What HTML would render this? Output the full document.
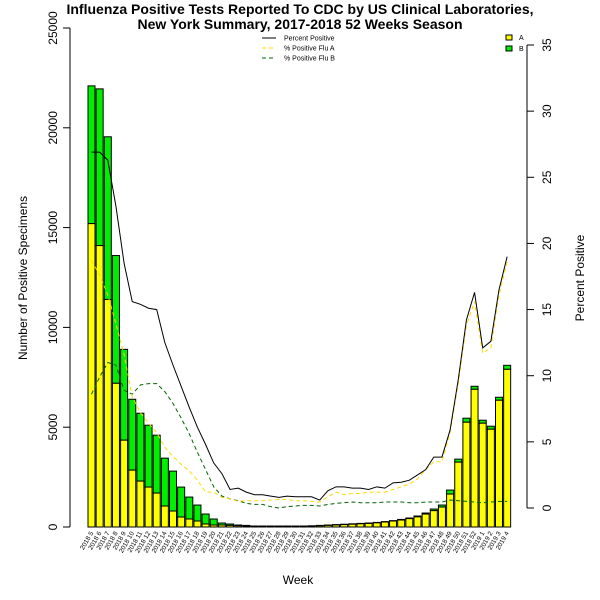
<!DOCTYPE html>
<html><head><meta charset="utf-8"><style>
body{margin:0;background:#fff;}
svg{display:block;font-family:"Liberation Sans",sans-serif;}
</style></head><body>
<svg id="chart" width="600" height="600" viewBox="0 0 600 600">
<rect width="600" height="600" fill="#fff"/>
<text x="300" y="14" text-anchor="middle" font-size="14" font-weight="bold">Influenza Positive Tests Reported To CDC by US Clinical Laboratories,</text>
<text x="300" y="29" text-anchor="middle" font-size="14" font-weight="bold">New York Summary, 2017-2018 52 Weeks Season</text>
<g id="bars"></g>
<g id="lines"></g>
<g id="axes"></g>
<text transform="translate(27,278) rotate(-90)" text-anchor="middle" font-size="12">Number of Positive Specimens</text>
<text transform="translate(584,278) rotate(-90)" text-anchor="middle" font-size="12">Percent Positive</text>
<text x="298" y="584" text-anchor="middle" font-size="12">Week</text>
<g font-size="7">
<line x1="262" y1="38" x2="276" y2="38" stroke="#000"/>
<text x="284" y="40.5">Percent Positive</text>
<line x1="262" y1="48" x2="276" y2="48" stroke="#ffd700" stroke-dasharray="4,3"/>
<text x="284" y="50.5">% Positive Flu A</text>
<line x1="262" y1="58" x2="276" y2="58" stroke="#006400" stroke-dasharray="4,3"/>
<text x="284" y="60.5">% Positive Flu B</text>
</g>
<g font-size="7">
<rect x="506" y="35" width="6" height="5" fill="#ffff00" stroke="#000"/>
<text x="519" y="40">A</text>
<rect x="506" y="46" width="6" height="5" fill="#00ee00" stroke="#000"/>
<text x="519" y="51">B</text>
</g>
</svg>
<script>
const weeks = ["2018 5","2018 6","2018 7","2018 8","2018 9","2018 10","2018 11","2018 12","2018 13","2018 14","2018 15","2018 16","2018 17","2018 18","2018 19","2018 20","2018 21","2018 22","2018 23","2018 24","2018 25","2018 26","2018 27","2018 28","2018 29","2018 30","2018 31","2018 32","2018 33","2018 34","2018 35","2018 36","2018 37","2018 38","2018 39","2018 40","2018 41","2018 42","2018 43","2018 44","2018 45","2018 46","2018 47","2018 48","2018 49","2018 50","2018 51","2018 52","2019 1","2019 2","2019 3","2019 4"];
const totals = [22100,21950,19550,13600,8900,6400,5700,5100,4600,3450,2800,2000,1500,1100,650,400,200,150,100,80,50,50,50,50,50,50,50,60,80,100,120,140,160,180,200,230,270,320,380,450,550,700,900,1100,1850,3400,5450,7050,5350,5050,6500,8100];
const fluA = [15200,14100,11400,7200,4350,2850,2300,2000,1700,1050,800,500,400,300,150,100,100,80,60,50,30,30,30,30,30,30,30,40,60,80,100,120,140,160,180,210,250,300,350,420,510,650,820,1000,1650,3250,5250,6900,5200,4900,6350,7900];
const pctPos = [26.9,26.9,26.3,22.8,18.5,15.6,15.4,15.1,15.0,12.5,10.8,9.2,7.6,6.1,4.8,3.4,2.6,1.4,1.5,1.2,1.0,1.0,0.9,0.8,0.9,0.85,0.85,0.85,0.6,1.3,1.6,1.6,1.5,1.5,1.4,1.6,1.5,1.9,1.95,2.1,2.5,2.9,3.85,3.85,5.9,9.7,14.2,16.3,12.1,12.6,16.5,19.0];
const pctA = [18.7,17.6,16.1,13.9,11.6,8.4,7.2,6.4,5.7,4.6,3.9,3.3,2.8,2.1,1.2,1.2,0.8,0.7,0.5,0.55,0.55,0.55,0.6,0.65,0.65,0.55,0.55,0.5,0.45,0.85,1.2,1.0,1.1,1.1,1.2,1.2,1.2,1.4,1.6,1.8,2.2,2.9,3.5,3.5,5.7,9.4,13.8,15.6,11.7,12.1,16.1,18.6];
const pctB = [8.6,9.9,11.0,10.8,8.9,8.6,9.3,9.4,9.4,8.8,7.9,6.8,5.6,4.2,2.9,1.6,0.9,0.7,0.55,0.35,0.27,0.27,0.1,0.0,0.1,0.15,0.2,0.2,0.15,0.27,0.35,0.4,0.45,0.4,0.4,0.4,0.45,0.45,0.45,0.4,0.4,0.45,0.45,0.45,0.6,0.55,0.5,0.45,0.4,0.45,0.5,0.5];
const leftTicks = [0,5000,10000,15000,20000,25000];
const rightTicks = [0,5,10,15,20,25,30,35];

const NS="http://www.w3.org/2000/svg";
function mk(tag,attrs,parent){const e=document.createElementNS(NS,tag);for(const k in attrs)e.setAttribute(k,attrs[k]);parent.appendChild(e);return e;}
const yL=v=>527-v*(499/25000);
const yR=v=>508-v*(463/35);
const xL=i=>88+i*8.15;
const xC=i=>xL(i)+3.5;

const gb=document.getElementById('bars');
totals.forEach((t,i)=>{
  const a=fluA[i];
  const rb=mk('rect',{x:xL(i),y:yL(t),width:7,height:yL(a)-yL(t),fill:'#00ee00',stroke:'#000','stroke-width':1},gb);
  
  
  const ra=mk('rect',{x:xL(i),y:yL(a),width:7,height:527-yL(a),fill:'#ffff00',stroke:'#000','stroke-width':1},gb);
  
  
});

const gl=document.getElementById('lines');
function line(arr,color,dash,name){
  const p=mk('polyline',{points:arr.map((v,i)=>xC(i)+','+yR(v)).join(' '),fill:'none',stroke:color,'stroke-width':1},gl);
  if(dash)p.setAttribute('stroke-dasharray',dash);
  
  
}
line(pctB,'#006400','4,3','line-percent-flu-b');
line(pctA,'#ffd700','4,3','line-percent-flu-a');
line(pctPos,'#000',null,'line-percent-positive');

const ga=document.getElementById('axes');
const la=mk('line',{x1:70,y1:yL(0),x2:70,y2:yL(25000),stroke:'#000'},ga);


leftTicks.forEach(v=>{
  const tk=mk('line',{x1:63,y1:yL(v),x2:70,y2:yL(v),stroke:'#000'},ga);
  
  
  const t=mk('text',{transform:`translate(57,${yL(v)}) rotate(-90)`,'text-anchor':'middle','font-size':12},ga);
  t.textContent=v;
  
  
});
const ra=mk('line',{x1:527,y1:yR(0),x2:527,y2:yR(35),stroke:'#000'},ga);


rightTicks.forEach(v=>{
  const tk=mk('line',{x1:527,y1:yR(v),x2:534,y2:yR(v),stroke:'#000'},ga);
  
  
  const t=mk('text',{transform:`translate(551,${yR(v)}) rotate(-90)`,'text-anchor':'middle','font-size':12},ga);
  t.textContent=v;
  
  
});
weeks.forEach((w,i)=>{
  const t=mk('text',{transform:`translate(${xC(i)+2},533) rotate(-60)`,'text-anchor':'end','font-size':6.5},ga);
  t.textContent=w;
  
  
});
</script>
</body></html>
